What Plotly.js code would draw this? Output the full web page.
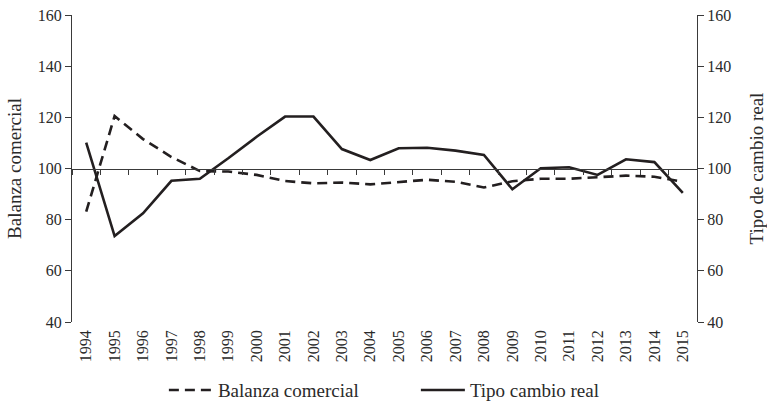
<!DOCTYPE html>
<html>
<head>
<meta charset="utf-8">
<script src="https://cdn.plot.ly/plotly-3.0.1.min.js"></script>
<style>html,body{margin:0;padding:0;background:#fff;}#chart{width:767px;height:403px;}</style>
</head>
<body>
<div id="chart"></div>
<script>
var years = ['1994','1995','1996','1997','1998','1999','2000','2001','2002','2003','2004','2005','2006','2007','2008','2009','2010','2011','2012','2013','2014','2015'];
var balanzaComercial = [83.1, 120.5, 111.5, 104.5, 99.0, 98.8, 97.5, 95.1, 94.2, 94.5, 93.8, 94.7, 95.6, 94.8, 92.6, 95.0, 96.0, 96.0, 96.5, 97.2, 96.8, 94.8];
var tipoCambioReal = [110.1, 73.6, 82.5, 95.2, 96.0, 104.0, 112.4, 120.3, 120.3, 107.6, 103.3, 107.9, 108.1, 107.0, 105.3, 91.9, 100.1, 100.5, 97.5, 103.6, 102.5, 90.5];
var yTicks = [40, 60, 80, 100, 120, 140, 160];

var ink = '#231f20';
var axisCol = '#3a3a3a';
var fontFam = '"Liberation Serif", "DejaVu Serif", serif';
var txt = '#2a2a2a';

var traces = [
  {x: years, y: balanzaComercial, type: 'scatter', mode: 'lines', name: 'Balanza comercial',
   line: {color: ink, width: 2.6, dash: '10px,6px'}, xaxis: 'x', yaxis: 'y'},
  {x: years, y: tipoCambioReal, type: 'scatter', mode: 'lines', name: 'Tipo cambio real',
   line: {color: ink, width: 2.6}, xaxis: 'x', yaxis: 'y2'},
  {x: years, y: years.map(function(){return null;}), type: 'scatter', mode: 'lines', xaxis: 'x2', yaxis: 'y', showlegend: false, hoverinfo: 'skip'}
];

var layout = {
  width: 767, height: 403,
  margin: {l: 72, r: 70, t: 15, b: 81, autoexpand: false},
  paper_bgcolor: '#fff', plot_bgcolor: '#fff',
  font: {family: fontFam, size: 16, color: txt},
  showlegend: true,
  legend: {orientation: 'h', x: 0.147, xanchor: 'left', y: -0.222, yanchor: 'middle',
           font: {family: fontFam, size: 19, color: txt}, itemwidth: 44, entrywidth: 193, traceorder: 'normal'},
  xaxis: {type: 'category', range: [-0.5, 21.5], showgrid: false, zeroline: false, showline: false,
          ticks: '', tickangle: -90, tickfont: {family: fontFam, size: 16, color: txt}, ticklabelstandoff: 4, automargin: false},
  xaxis2: {type: 'category', range: [-0.5, 21.5], overlaying: 'x', anchor: 'free', position: 0.5,
           showgrid: false, zeroline: false, showline: true, linecolor: axisCol, linewidth: 1,
           ticks: 'outside', tickson: 'boundaries', ticklen: 5, tickcolor: axisCol, showticklabels: false,
           tickvals: years, matches: 'x'},
  yaxis: {range: [40, 160], tickvals: yTicks, showgrid: false, zeroline: false, showline: true,
          linecolor: axisCol, linewidth: 1, ticks: 'outside', ticklen: 6, tickcolor: axisCol, automargin: false,
          tickfont: {family: fontFam, size: 16, color: txt},
          title: {text: 'Balanza comercial', font: {family: fontFam, size: 19, color: txt}, standoff: 11}},
  yaxis2: {range: [40, 160], tickvals: yTicks, overlaying: 'y', side: 'right', showgrid: false, zeroline: false,
           showline: true, linecolor: axisCol, linewidth: 1, ticks: 'outside', ticklen: 6, tickcolor: axisCol, automargin: false,
           tickfont: {family: fontFam, size: 16, color: txt},
           title: {text: 'Tipo de cambio real', font: {family: fontFam, size: 19, color: txt}, standoff: 22}}
};

Plotly.newPlot('chart', traces, layout, {displayModeBar: false, staticPlot: true});
</script>
</body>
</html>
